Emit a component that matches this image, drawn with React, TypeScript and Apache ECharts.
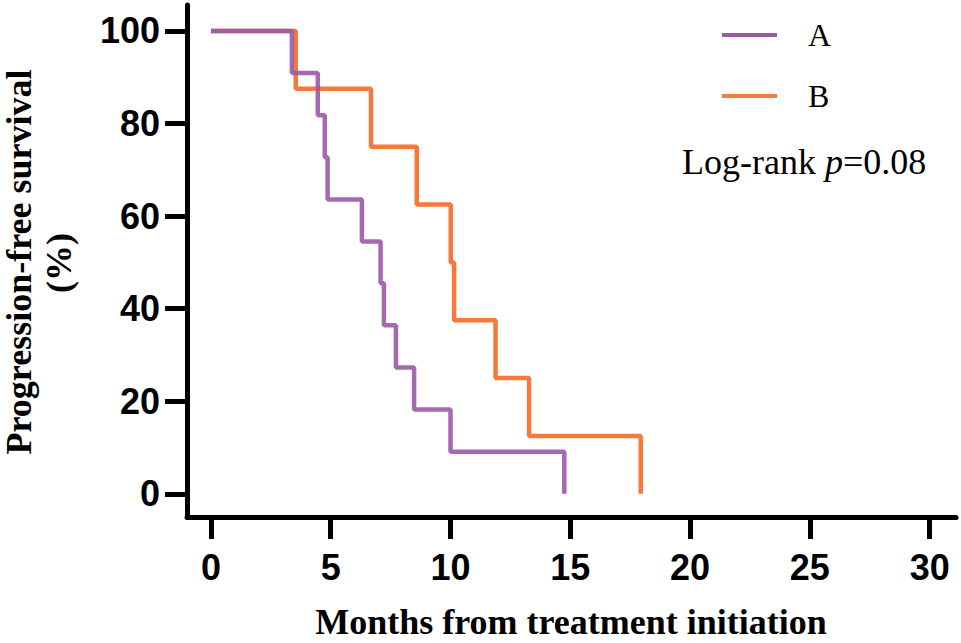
import React, { useEffect, useRef } from "react";
import * as echarts from "echarts";

const seriesNames = ["A", "B"];
const timesA = [0, 3.38, 4.46, 4.75, 4.87, 6.3, 7.08, 7.22, 7.72, 8.48, 10.0, 14.75];
const survA = [100, 90.9, 81.8, 72.7, 63.6, 54.5, 45.5, 36.4, 27.3, 18.2, 9.1, 0];
const timesB = [0, 3.54, 6.68, 8.59, 10.01, 10.15, 11.88, 13.28, 17.94];
const survB = [100, 87.5, 75, 62.5, 50, 37.5, 25, 12.5, 0];
const xTicks = [0, 5, 10, 15, 20, 25, 30];
const yTicks = [0, 20, 40, 60, 80, 100];
const pValueText = "0.08";

export default function App() {
  const ref = useRef<HTMLDivElement>(null);
  useEffect(() => {
    document.body.style.margin = "0";
    if (!ref.current) return;
    const chart = echarts.init(ref.current, null, { renderer: "svg" });
    const dataA = timesA.map((t, i) => [t, survA[i]]);
    const dataB = timesB.map((t, i) => [t, survB[i]]);
    const axisColor = "#000";
    const yTitleStyle = {
      fontFamily: "Liberation Serif",
      fontWeight: "bold",
      fontSize: 36,
      lineHeight: 36,
      textAlign: "center",
      textVerticalAlign: "middle",
      fill: "#000",
    };
    chart.setOption({
      animation: false,
      backgroundColor: "#fff",
      grid: { left: 187, right: 5, top: 5, bottom: 126, containLabel: false },
      legend: {
        orient: "vertical",
        left: 717,
        top: 14,
        itemWidth: 55,
        itemHeight: 4,
        itemGap: 29,
        icon: "rect",
        data: seriesNames,
        textStyle: { fontFamily: "Liberation Serif", fontSize: 32, color: "#000", padding: [0, 0, 0, 26] },
      },
      xAxis: {
        type: "value",
        min: -1,
        max: 31.1,
        axisLine: { show: true, onZero: false, lineStyle: { color: axisColor, width: 5 } },
        axisTick: { show: true, customValues: xTicks, length: 22, lineStyle: { color: axisColor, width: 5 } },
        axisLabel: {
          customValues: xTicks,
          margin: 32,
          fontSize: 36,
          fontWeight: "bold",
          fontFamily: "Liberation Sans",
          color: "#000",
        },
        splitLine: { show: false },
      },
      yAxis: {
        type: "value",
        min: -5,
        max: 105.6,
        axisLine: { show: true, onZero: false, lineStyle: { color: axisColor, width: 5 } },
        axisTick: { show: true, customValues: yTicks, length: 22, lineStyle: { color: axisColor, width: 5 } },
        axisLabel: {
          customValues: yTicks,
          margin: 27,
          fontSize: 36,
          fontWeight: "bold",
          fontFamily: "Liberation Sans",
          color: "#000",
        },
        splitLine: { show: false },
      },
      graphic: [
        {
          type: "text",
          x: 19,
          y: 262,
          rotation: Math.PI / 2,
          style: { ...yTitleStyle, text: "Progression-free survival" },
        },
        {
          type: "text",
          x: 59,
          y: 263,
          rotation: Math.PI / 2,
          style: { ...yTitleStyle, text: "(%)" },
        },
        {
          type: "text",
          x: 571,
          y: 622,
          style: {
            text: "Months from treatment initiation",
            fontFamily: "Liberation Serif",
            fontWeight: "bold",
            fontSize: 36,
            textAlign: "center",
            textVerticalAlign: "middle",
            fill: "#000",
          },
        },
        {
          type: "text",
          x: 682,
          y: 162,
          style: {
            text: "{n|Log-rank }{i|p}{n|=" + pValueText + "}",
            textAlign: "left",
            textVerticalAlign: "middle",
            rich: {
              n: { fontFamily: "Liberation Serif", fontSize: 36, fill: "#000" },
              i: { fontFamily: "Liberation Serif", fontSize: 36, fontStyle: "italic", fill: "#000" },
            },
          },
        },
      ],
      series: [
        {
          name: "B",
          type: "line",
          step: "end",
          data: dataB,
          symbol: "none",
          color: "#F5793A",
          lineStyle: { width: 4.5, color: "#F5793A" },
          z: 2,
        },
        {
          name: "A",
          type: "line",
          step: "end",
          data: dataA,
          symbol: "none",
          color: "#9B59A8",
          lineStyle: { width: 4.5, color: "#9B59A8", opacity: 0.9 },
          z: 3,
        },
      ],
    });
    return () => chart.dispose();
  }, []);
  return <div ref={ref} style={{ width: 961, height: 643 }} />;
}
